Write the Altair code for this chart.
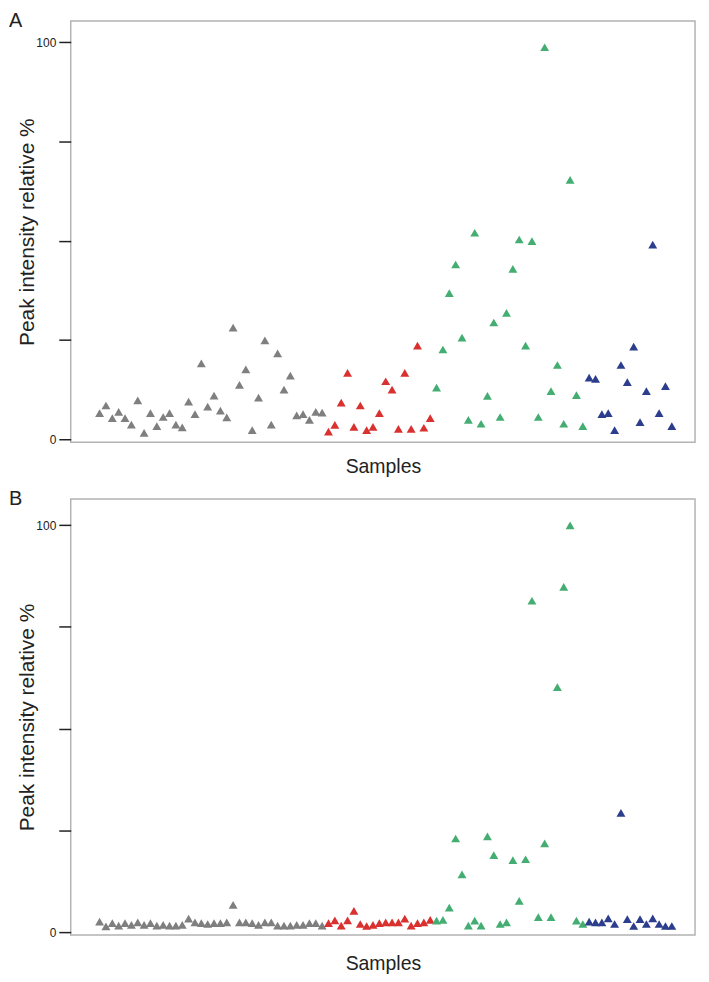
import altair as alt
import pandas as pd

# ---- data ----
group_names = ["gray", "red", "green", "navy"]
group_colors = ["#7f7f7f", "#d8312f", "#44ae72", "#2b3d8c"]

gray_A = [6.6, 8.5, 5.3, 6.9, 5.3, 3.7, 9.8, 1.6, 6.6, 3.3, 5.6, 6.6, 3.7, 3.0, 9.5, 6.3,
          19.1, 8.2, 11.0, 7.2, 5.5, 28.1, 13.7, 17.6, 2.3, 10.5, 24.9, 3.7, 21.6, 12.5,
          16.0, 6.0, 6.3, 4.9, 6.9, 6.7]
red_A = [1.9, 3.6, 9.2, 16.7, 3.1, 8.5, 2.3, 3.1, 6.6, 14.6, 12.5, 2.6, 16.7, 2.6, 23.6,
         2.9, 5.3]
green_A = [13.0, 22.6, 36.8, 44.0, 25.6, 4.9, 52.0, 3.9, 10.9, 29.4, 5.6, 31.8, 42.9, 50.3,
           23.6, 49.9, 5.6, 98.7, 12.1, 18.7, 3.9, 65.3, 11.1, 3.3]
navy_A = [15.5, 15.2, 6.3, 6.6, 2.3, 18.7, 14.4, 23.3, 4.3, 12.1, 49.0, 6.6, 13.4, 3.3]

gray_B = [2.6, 1.4, 2.2, 1.6, 2.2, 1.8, 2.4, 1.8, 2.2, 1.6, 1.8, 1.6, 1.6, 1.8, 3.3, 2.4,
          2.2, 2.0, 2.2, 2.2, 2.4, 6.7, 2.4, 2.4, 2.2, 1.8, 2.4, 2.4, 1.6, 1.6, 1.6, 1.8,
          1.8, 2.2, 2.2, 1.6]
red_B = [2.2, 2.9, 1.6, 2.9, 5.2, 2.0, 1.5, 1.8, 2.2, 2.4, 2.4, 2.4, 3.3, 1.6, 2.2, 2.4, 3.0]
green_B = [2.8, 3.0, 6.0, 23.0, 14.2, 1.6, 2.8, 1.6, 23.5, 18.9, 2.0, 2.4, 17.7, 7.7, 17.9,
           81.4, 3.7, 21.8, 3.7, 60.2, 84.8, 99.9, 2.8, 2.0]
navy_B = [2.6, 2.4, 2.4, 3.4, 2.0, 29.3, 3.2, 1.5, 3.2, 2.0, 3.4, 2.0, 1.5, 1.5]

y_ticks = [0, 25, 50, 75, 100]
FONT = "Liberation Sans"


def build_df(series):
    rows = []
    idx = 0
    for name, vals in zip(group_names, series):
        for v in vals:
            rows.append({"sample": idx, "value": v, "group": name})
            idx += 1
    return pd.DataFrame(rows)


def panel(series, letter, ydomain, height, xtitle_pad):
    df = build_df(series)
    pts = alt.Chart(df).mark_point(
        shape="triangle-up", filled=True, size=80, opacity=1
    ).encode(
        x=alt.X("sample:Q",
                scale=alt.Scale(domain=[-4.54, 93.65], nice=False, zero=False),
                axis=alt.Axis(ticks=False, labels=False, domain=False, grid=False,
                              title="Samples", titleFontSize=19.5, titlePadding=xtitle_pad,
                              titleFontWeight="normal", titleFont=FONT, titleColor="#222")),
        y=alt.Y("value:Q",
                scale=alt.Scale(domain=ydomain, nice=False, zero=False),
                axis=alt.Axis(values=y_ticks,
                              labelExpr="datum.value == 0 || datum.value == 100 ? datum.label : ''",
                              grid=False, domain=False, tickSize=12, tickColor="#222",
                              tickWidth=1.5, labelFontSize=12, labelColor="#222",
                              labelPadding=3, labelFont=FONT,
                              title="Peak intensity relative %", titleFontSize=21,
                              titleFontWeight="normal", titleFont=FONT, titleColor="#222",
                              titleX=-33, titleBaseline="bottom")),
        color=alt.Color("group:N", scale=alt.Scale(domain=group_names, range=group_colors),
                        legend=None),
    )
    lab = alt.Chart(pd.DataFrame({"t": [letter]})).mark_text(
        align="left", baseline="alphabetic", fontSize=20, font=FONT, color="#222"
    ).encode(text="t:N", x=alt.value(-62), y=alt.value(6))
    return alt.layer(pts, lab).properties(width=627, height=height)


chart = alt.vconcat(
    panel([gray_A, red_A, green_A, navy_A], "A", [-0.75, 105.3], 423, 15),
    panel([gray_B, red_B, green_B, navy_B], "B", [-0.73, 106.4], 438, 20),
    spacing=11,
).configure_view(stroke="#b3b3b3", strokeWidth=1.5).properties(
    padding={"left": 0, "top": 0, "right": 5, "bottom": 5}
)

chart.save("out.html", embed_options={"renderer": "svg", "actions": False})
